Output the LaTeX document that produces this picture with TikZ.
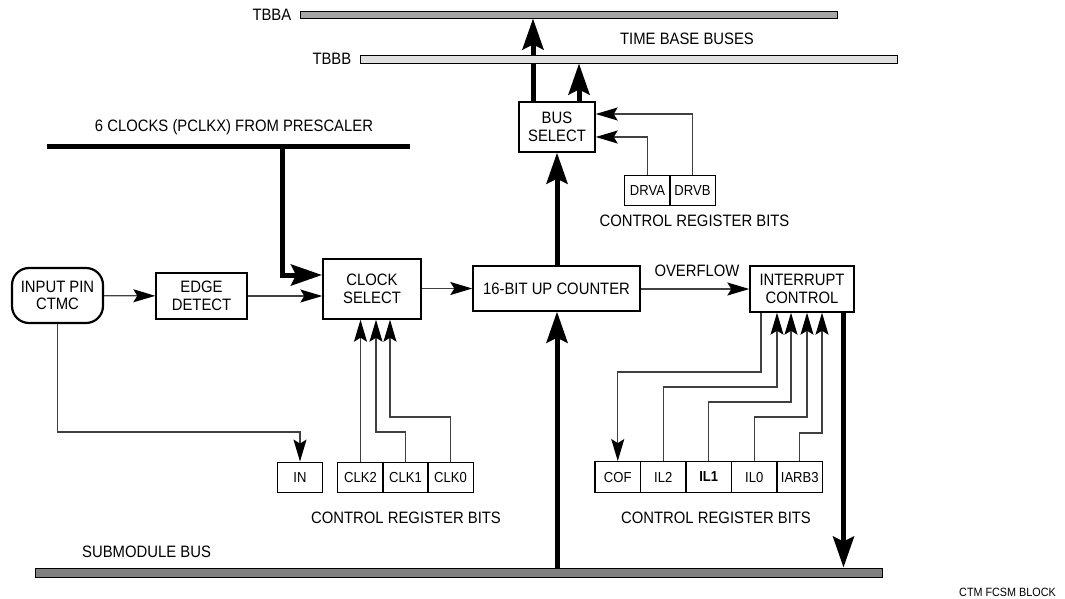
\documentclass[tikz,border=0pt]{standalone}
\usepackage{fontspec}
\setmainfont{Liberation Sans}[FakeStretch=0.9]
\usetikzlibrary{arrows.meta,backgrounds}
\begin{document}
\begin{tikzpicture}[x=1pt,y=-1pt,
  box/.style={draw,line width=1.4pt,inner sep=0pt,align=center,font=\fontsize{16.5}{17.5}\selectfont},
  bitbox/.style={draw,line width=1.4pt,inner sep=0pt,minimum width=45.5pt,minimum height=30.5pt,font=\fontsize{14.5}{16}\selectfont},
  lbl/.style={inner sep=0pt,font=\fontsize{16.5}{17.5}\selectfont},
  conn/.style={line width=1.2pt,draw=black!75},
  thinarr/.style={conn,-{Stealth[length=22pt,width=13pt,inset=4pt,color=black]}},
  thickline/.style={line width=5pt},
  thickarr/.style={line width=5pt,-{Stealth[length=31pt,width=21pt,inset=5pt]}},
  bus/.style={draw,line width=1pt,inner sep=0pt,minimum height=7pt}
]
\useasboundingbox (0,0) rectangle (1065,598);

% buses
\node[bus,fill=black!35,minimum width=537pt] (tbba) at (568.5,14.5) {};
\node[bus,fill=black!12,minimum width=537pt,minimum height=8pt] (tbbb) at (628.5,59) {};
\node[bus,fill=black!50,minimum width=847pt,minimum height=9pt] (smb) at (458.5,572.5) {};

% labels
\node[lbl,anchor=east] (ltbba) at ([xshift=-8pt]tbba.west) {TBBA};
\node[lbl,anchor=east] (ltbbb) at ([xshift=-8pt]tbbb.west) {TBBB};
\node[lbl] (ltbb) at (687,39) {TIME BASE BUSES};
\node[lbl] (lclk) at (234,127) {6 CLOCKS (PCLKX) FROM PRESCALER};
\node[lbl,anchor=west] (lsmb) at (82,552) {SUBMODULE BUS};
\node[lbl,anchor=east,font=\fontsize{12}{13}\selectfont] (lblock) at (1056,592) {CTM FCSM BLOCK};
\node[lbl] (lovf) at (697,271) {OVERFLOW};
\node[lbl] (lcrb1) at (694.5,221) {CONTROL REGISTER BITS};
\node[lbl] (lcrb2) at (406,518) {CONTROL REGISTER BITS};
\node[lbl] (lcrb3) at (716,518) {CONTROL REGISTER BITS};

% main boxes
\node[box,line width=2.2pt,rounded corners=17pt,minimum width=91pt,minimum height=55pt] (inpin) at (57.5,295.5) {INPUT PIN\\CTMC};
\node[box,minimum width=91pt,minimum height=46pt] (edge) at (201.5,296) {EDGE\\DETECT};
\node[box,minimum width=98pt,minimum height=60pt] (clksel) at (372,289) {CLOCK\\SELECT};
\node[box,minimum width=167pt,minimum height=45pt] (counter) at (556.5,288.5) {16-BIT UP COUNTER};
\node[box,minimum width=76pt,minimum height=50pt] (busel) at (557,127) {BUS\\SELECT};
\node[box,minimum width=104pt,minimum height=46pt] (intctl) at (802,289) {INTERRUPT\\CONTROL};

% register bits
\node[bitbox] (drva) at (647.5,190.5) {DRVA};
\node[bitbox] (drvb) at (692.5,190.5) {DRVB};
\node[bitbox] (in) at (300,477.5) {IN};
\node[bitbox] (clk2) at (360.5,477.5) {CLK2};
\node[bitbox] (clk1) at (405.5,477.5) {CLK1};
\node[bitbox] (clk0) at (450.5,477.5) {CLK0};
\node[bitbox] (cof) at (617.75,477) {COF};
\node[bitbox] (il2) at (663.25,477) {IL2};
\node[bitbox] (il1) at (708.75,477) {\textbf{IL1}};
\node[bitbox] (il0) at (754.25,477) {IL0};
\node[bitbox] (iarb) at (799.75,477) {IARB3};

% thin flow arrows
\draw[thinarr] (inpin) -- (edge);
\draw[thinarr] (edge.east) -- (edge.east -| clksel.west);
\draw[thinarr] (clksel.east |- counter.west) -- (counter.west);
\draw[thinarr] (counter.east |- intctl.west) -- (intctl.west);

% prescaler clocks
\coordinate (pl) at (47,146);
\coordinate (pr) at (410,146);
\coordinate (pj) at (282,146);
\coordinate (csin) at (322,275);
\draw[thickline] (pl) -- (pr);
\draw[thickarr] (pj) |- (csin);

% thick bus arrows
\draw[thickarr] (busel.south |- counter.north) -- (busel.south);
\draw[thickarr] (busel.south |- smb.north) -- (busel.south |- counter.south);
\begin{scope}[on background layer]
\draw[thickarr] ([xshift=-24pt]busel.north) -- ([xshift=-24pt]busel.north |- tbba.south);
\end{scope}
\draw[thickarr] ([xshift=22pt]busel.north) -- ([xshift=22pt]busel.north |- tbbb.south);
\draw[thickarr] ([xshift=41.5pt]intctl.south) -- ([xshift=41.5pt]intctl.south |- smb.north);

% DRV bits
\coordinate (dra) at (647.5,137);
\coordinate (drb) at (692.5,114);
\draw[thinarr] (drva.north) |- (busel.east |- dra);
\draw[thinarr] (drvb.north) |- (busel.east |- drb);

% clock select bits
\coordinate (c1a) at (376,432);
\coordinate (c0a) at (390,417);
\draw[thinarr] (clk2.north) -- (clk2.north |- clksel.south);
\draw[thinarr] (clk1.north) |- (c1a) -- (c1a |- clksel.south);
\draw[thinarr] (clk0.north) |- (c0a) -- (c0a |- clksel.south);

% input pin to IN bit
\coordinate (ina) at (300,432);
\draw[thinarr] (inpin.south) |- (ina) -- (in.north);

% interrupt bits
\coordinate (cofa) at (761,372);
\coordinate (il2a) at (777,387);
\coordinate (il1a) at (791,402);
\coordinate (il0a) at (807,417);
\coordinate (iarba) at (822,433);
\draw[thinarr] (cofa |- intctl.south) -- (cofa) -| (cof.north);
\draw[thinarr] (il2.north) |- (il2a) -- (il2a |- intctl.south);
\draw[thinarr] (il1.north) |- (il1a) -- (il1a |- intctl.south);
\draw[thinarr] (il0.north) |- (il0a) -- (il0a |- intctl.south);
\draw[thinarr] (iarb.north) |- (iarba) -- (iarba |- intctl.south);
\end{tikzpicture}
\end{document}
